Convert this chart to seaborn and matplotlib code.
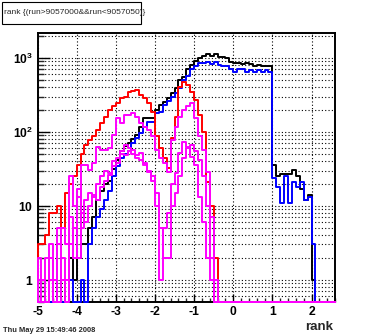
import numpy as np
import pandas as pd
import matplotlib
matplotlib.use("Agg")
import matplotlib.pyplot as plt
import seaborn as sns
from matplotlib.ticker import FixedLocator, FixedFormatter, MultipleLocator, LogLocator, NullFormatter
from matplotlib.patches import Rectangle

# ---------------- data ----------------
bin_edges = np.round(np.arange(-5.0, 2.6001, 0.1), 2)   # 76 bins of width 0.1

black = [0, 0, 0, 0, 0, 0, 1, 0, 2, 1,
         2, 3, 3, 5, 7, 12, 16, 20, 22, 32,
         42, 55, 65, 71, 80, 90, 118, 155, 155, 155,
         200, 230, 258, 290, 335, 390, 500, 560, 700, 800,
         900, 1000, 1070, 1120, 1050, 1120, 1030, 1030, 990, 890,
         850, 850, 840, 850, 820, 790, 800, 790, 780, 780,
         36, 25, 27, 27, 27, 31, 25, 17, 12, 14,
         1, 0, 0, 0, 0, 0]

blue = [0, 0, 0, 0, 0, 0, 0, 0, 1, 0,
        0, 1, 0, 3, 5, 7, 9, 12, 16, 25,
        35, 44, 50, 55, 70, 83, 96, 118, 138, 138,
        178, 185, 230, 260, 300, 340, 390, 500, 580, 700,
        780, 850, 850, 880, 820, 880, 800, 780, 780, 700,
        650, 700, 720, 650, 680, 650, 680, 650, 680, 640,
        24, 18, 11, 25, 11, 21, 18, 21, 12, 13,
        3, 0, 0, 0, 0, 0]

red = [3, 3, 4, 8, 8, 10, 5, 15, 20, 25,
       36, 50, 66, 78, 87, 107, 133, 161, 198, 225,
       250, 285, 300, 350, 360, 370, 316, 284, 245, 188,
       87, 60, 44, 33, 83, 160, 410, 480, 435, 350,
       270, 170, 100, 21, 10, 2, 0, 0, 0, 0,
       0, 0, 0, 0, 0, 0, 0, 0, 0, 0,
       0, 0, 0, 0, 0, 0, 0, 0, 0, 0,
       0, 0, 0, 0, 0, 0]

magenta_a = [2, 1, 0, 2, 1, 3, 5, 3, 25, 10,
             13, 36, 36, 31, 38, 63, 57, 57, 60, 90,
             155, 133, 170, 170, 178, 160, 133, 118, 107, 87,
             57, 45, 38, 29, 78, 118, 160, 200, 225, 243,
             155, 87, 57, 29, 7, 1, 0, 0, 0, 0,
             0, 0, 0, 0, 0, 0, 0, 0, 0, 0,
             0, 0, 0, 0, 0, 0, 0, 0, 0, 0,
             0, 0, 0, 0, 0, 0]

magenta_b = [1, 0, 2, 1, 0, 5, 1, 0, 7, 2,
             17, 5, 12, 15, 13, 20, 25, 30, 28, 40,
             45, 55, 66, 60, 57, 49, 52, 38, 29, 25,
             10, 1, 5, 8, 20, 28, 52, 74, 63, 46,
             36, 13, 6, 2, 2, 0, 0, 0, 0, 0,
             0, 0, 0, 0, 0, 0, 0, 0, 0, 0,
             0, 0, 0, 0, 0, 0, 0, 0, 0, 0,
             0, 0, 0, 0, 0, 0]

magenta_c = [0, 1, 0, 3, 1, 0, 2, 1, 3, 5,
             2, 8, 6, 10, 14, 12, 18, 22, 26, 35,
             38, 50, 48, 55, 50, 45, 42, 36, 30, 22,
             15, 5, 2, 2, 10, 15, 25, 45, 60, 66,
             55, 42, 25, 10, 1, 0, 0, 0, 0, 0,
             0, 0, 0, 0, 0, 0, 0, 0, 0, 0,
             0, 0, 0, 0, 0, 0, 0, 0, 0, 0,
             0, 0, 0, 0, 0, 0]

title_text = "rank {(run>9057000&&run<9057050)}"
date_text = "Thu May 29 15:49:46 2008"
x_label = "rank"
x_ticks = [-5, -4, -3, -2, -1, 0, 1, 2]
y_ticks = [1, 10, 100, 1000]
y_tick_labels = [r"$\mathbf{1}$", r"$\mathbf{10}$", r"$\mathbf{10^{2}}$", r"$\mathbf{10^{3}}$"]

# ---------------- style ----------------
sns.set_theme(style="white")
plt.rcParams['font.family'] = ['Liberation Sans', 'DejaVu Sans']
plt.rcParams['mathtext.fontset'] = 'custom'
plt.rcParams['mathtext.rm'] = 'Liberation Sans'
plt.rcParams['mathtext.bf'] = 'Liberation Sans:bold'

W, H = 373, 336
fig = plt.figure(figsize=(W / 100, H / 100), dpi=100)
fig.patch.set_facecolor('white')
ax = fig.add_axes([37.5 / W, 1 - 302 / H, (335 - 37.5) / W, (302 - 33) / H])
ax.set_facecolor('white')

ymin, ymax = 0.5, 2180
ax.set_yscale('log')

series = [("black", black), ("#0000ff", blue), ("#ff0000", red),
          ("#ff00ff", magenta_a), ("#ff00ff", magenta_b), ("#ff00ff", magenta_c)]
for color, vals in series:
    v = np.asarray(vals, dtype=float)
    v = np.where(v > 0, v, ymin)
    xs = np.concatenate([[bin_edges[0]], bin_edges])
    ys = np.concatenate([[ymin], v, [v[-1]]])
    df = pd.DataFrame({"x": xs, "y": ys})
    sns.lineplot(data=df, x="x", y="y", ax=ax, color=color, lw=1.4,
                 drawstyle='steps-post', sort=False, estimator=None,
                 zorder=3, clip_on=False, legend=False)

ax.set_xlim(-5, 2.6)
ax.set_ylim(ymin, ymax)
ax.set_xlabel("")
ax.set_ylabel("")

# ticks
ax.xaxis.set_major_locator(FixedLocator(x_ticks))
ax.xaxis.set_minor_locator(MultipleLocator(0.2))
ax.set_xticklabels([str(t) for t in x_ticks], fontweight='bold', fontsize=8.7)
ax.yaxis.set_major_locator(FixedLocator(y_ticks))
ax.yaxis.set_major_formatter(FixedFormatter(y_tick_labels))
ax.yaxis.set_minor_locator(LogLocator(base=10, subs=np.arange(2, 10), numticks=20))
ax.yaxis.set_minor_formatter(NullFormatter())
for lab in ax.get_yticklabels():
    lab.set_fontsize(8.7)

ax.tick_params(axis='x', which='major', direction='in', length=5.8, width=1.0,
               pad=3, colors='black', bottom=True, top=False)
ax.tick_params(axis='x', which='minor', direction='in', length=2.9, width=1.0,
               bottom=True, top=False)
ax.tick_params(axis='y', which='major', direction='in', length=8.4, width=1.0,
               pad=3, colors='black', left=True, right=False)
ax.tick_params(axis='y', which='minor', direction='in', length=4.6, width=1.0,
               left=True, right=False)

# grid
ax.grid(False)
ax.grid(True, which='major', axis='x', color='black', ls=(0, (1, 2)), lw=0.8)
ax.grid(True, which='both', axis='y', color='black', ls=(0, (1, 2)), lw=0.8)
ax.set_axisbelow(True)

for sp in ax.spines.values():
    sp.set_visible(True)
    sp.set_color('black')
    sp.set_linewidth(1.4)
    sp.set_zorder(2.5)

# title box
fig.patches.append(Rectangle((1.5 / W, 1 - 24 / H), 139.5 / W, 22.5 / H,
                             transform=fig.transFigure, fill=False,
                             edgecolor='black', lw=0.8))
fig.text(4 / W, 1 - 12.5 / H, title_text, fontsize=6.0, ha='left', va='center')

# date and x label
fig.text(3 / W, 6 / H, date_text, fontsize=5.4, fontweight='bold', ha='left', va='center')
fig.text(333 / W, 9 / H, x_label, fontsize=9.5, fontweight='bold', ha='right', va='center')

fig.savefig("out.png", dpi=100, facecolor='white')
